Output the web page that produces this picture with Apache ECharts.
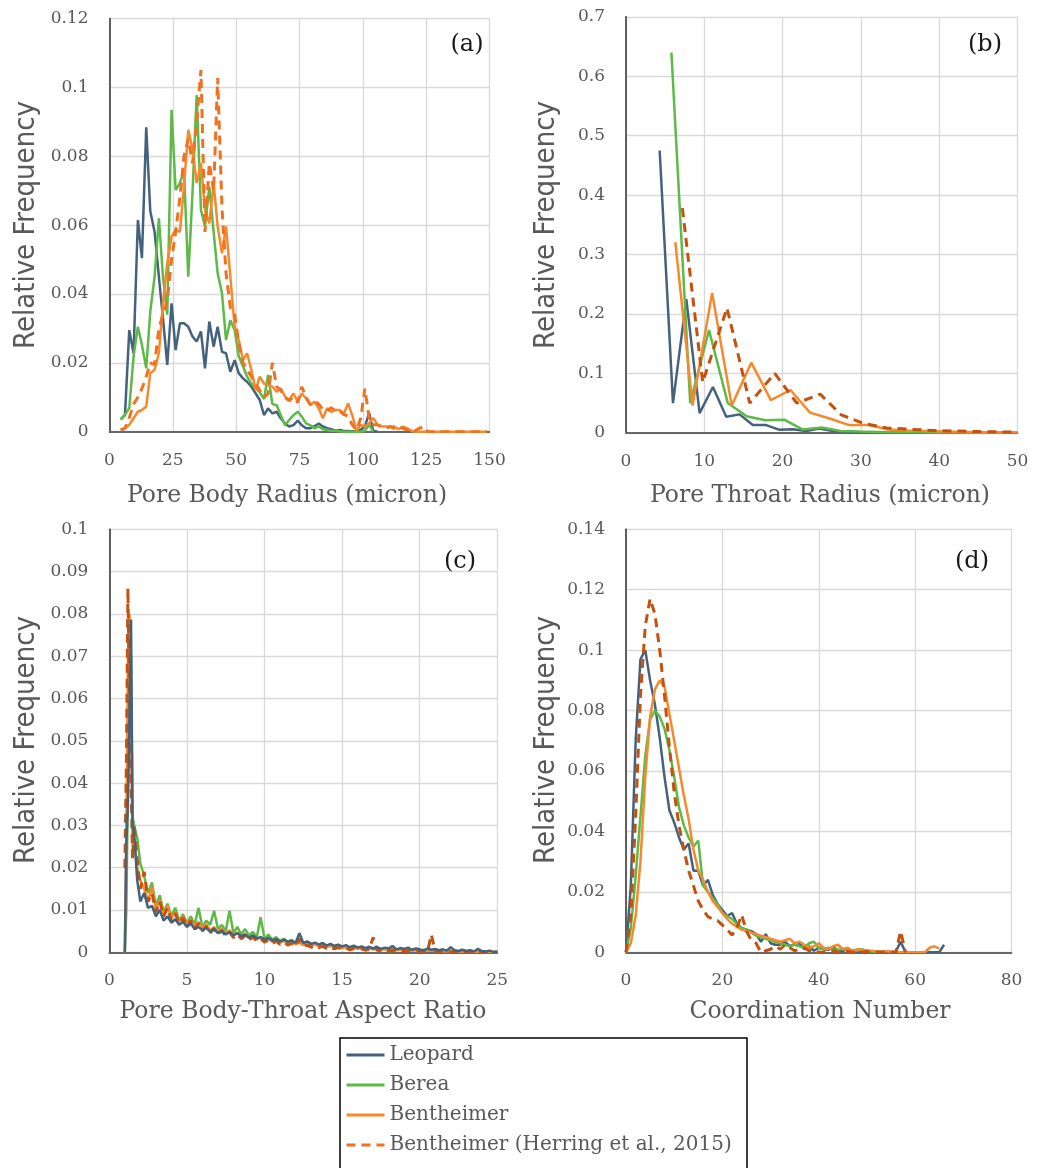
<!DOCTYPE html>
<html><head><meta charset="utf-8">
<script src="https://cdn.jsdelivr.net/npm/echarts@6/dist/echarts.min.js"></script>
<style>html,body{margin:0;padding:0;background:#fff;}#chart{width:1045px;height:1168px;}</style>
</head><body><div id="chart"></div>
<script>
// ---------- DATA ----------
const seriesNames = ['Leopard', 'Berea', 'Bentheimer', 'Bentheimer (Herring et al., 2015)'];
const xTitles = ['Pore Body Radius (micron)', 'Pore Throat Radius (micron)', 'Pore Body-Throat Aspect Ratio', 'Coordination Number'];
const panelLabels = ['(a)', '(b)', '(c)', '(d)'];
const yTitle = 'Relative Frequency';

// (a) pore body radius
const aX = [4.4, 6.1, 7.8, 9.5, 11.2, 12.8, 14.5, 16.1, 17.8, 19.5,
 21.1, 22.8, 24.5, 26.1, 27.8, 29.4, 31.1, 32.8, 34.4, 36.1,
 37.7, 39.4, 41.1, 42.7, 44.4, 46.0, 47.7, 49.4, 51.0, 52.7,
 54.3, 56.0, 57.7, 59.3, 61.0, 62.6, 64.3, 66.0, 67.6, 69.3,
 70.9, 72.6, 74.3, 75.9, 77.6, 79.2, 80.9, 82.6, 84.2, 85.9,
 87.5, 89.2, 90.9, 92.5, 94.2, 95.8, 97.5, 99.2, 100.8, 102.5,
 104.1, 105.8, 107.5, 109.1, 110.8, 112.4, 114.1, 115.8, 117.4, 119.1,
 120.7, 122.4, 124.1, 125.7, 127.4, 129.0, 130.7, 132.4, 134.0, 135.7,
 137.3, 139.0, 140.7, 142.3, 144.0, 145.6, 147.3, 149.0];
const aLeopard = [.0036, .0048, .0295, .0228, .0615, .0504, .0884, .064, .058, .045,
 .033, .0194, .0373, .0237, .0315, .0315, .0305, .0276, .0262, .0291,
 .0184, .032, .0247, .0305, .0232, .0228, .0174, .0208, .017, .0155,
 .0145, .0131, .0111, .0092, .0048, .0068, .0053, .0058, .0039, .0024,
 .0015, .0019, .0032, .0019, .001, .001, .0016, .0024, .0015, .001,
 .0007, .0003, .0005, .0002, .0002, .0001, .0001, .0006, .0015, .0055,
 .0003, 0];
const aBerea = [.0035, .005, .0068, .0218, .0305, .0252, .0184, .0349, .045, .062,
 .045, .034, .0935, .0702, .0722, .076, .045, .07, .0978, .0644,
 .0596, .0712, .058, .046, .0402, .0266, .0324, .0295, .022, .019,
 .016, .014, .0125, .0115, .0095, .0165, .008, .0077, .0048, .0019,
 .0034, .0048, .0058, .0044, .0024, .0019, .001, .0015, .0007, .0005,
 .0003, .0003, .0001, 0, 0, 0, 0, 0, .0003, .002,
 0];
const aBent = [.0005, .001, .002, .0039, .0058, .0063, .0073, .017, .018, .0228,
 .0373, .049, .0567, .0586, .058, .0712, .0877, .082, .0722, .078,
 .0644, .0605, .0722, .0596, .0518, .0596, .045, .0305, .0266, .0208,
 .0228, .0179, .0121, .016, .014, .0136, .0131, .0116, .0126, .0102,
 .0092, .0111, .0087, .0111, .0097, .0077, .0087, .0068, .0039, .0068,
 .0058, .0063, .0063, .0053, .0082, .0048, .0003, .002, .0015, .0025,
 .004, .002, .0015, .0015, .0015, .0015, .0007, .0015, .001, .0003,
 0, 0, 0, 0, 0, 0, 0, 0, 0, 0,
 0, 0, 0, 0, 0, 0, 0, 0];
const aHerring = [.0005, .001, .004, .008, .01, .0125, .016, .02, .0195, .03,
 .034, .038, .05, .058, .068, .08, .085, .078, .09, .105,
 .058, .078, .07, .1027, .065, .046, .036, .034, .026, .02,
 .018, .016, .014, .012, .01, .011, .02, .013, .012, .01,
 .009, .01, .0085, .013, .01, .008, .009, .008, .0065, .006,
 .007, .006, .006, .005, .0045, .002, .0005, .004, .0125, .004,
 .002, .002, .0015, .001, .0015, .001, .0015, .001, .0005, .001,
 .0003, .001, .0015, 0, 0, 0, 0, 0, 0, 0,
 0, 0, 0, 0, 0, 0, 0, 0];

// (b) pore throat radius
const bLeopardX = [4.3, 6.0, 7.7, 9.4, 11.1, 12.8, 14.5, 16.2, 17.9, 19.6, 21.3, 23.0, 24.7, 26.4, 28.1, 29.8, 31.5, 33.2, 34.9, 36.6, 38.3, 40.0, 41.7, 43.4, 45.1, 46.8, 48.5];
const bLeopardY = [.475, .05, .225, .033, .077, .027, .031, .013, .013, .005, .006, .003, .007, .003, .002, .001, .001, .0005, .0004, .0003, .0002, .0002, .0001, .0001, 0, 0, 0];
const bBereaX = [5.8, 8.2, 10.6, 13.0, 15.4, 17.8, 20.2, 22.6, 25.0, 27.4, 29.8, 32.2, 34.6, 37.0, 39.4, 41.8, 44.2, 46.6, 49.0];
const bBereaY = [.64, .05, .173, .05, .028, .021, .022, .0055, .009, .003, .002, .0015, .001, .0008, .0005, .0003, .0002, .0001, 0];
const bBentX = [6.3, 8.5, 11.0, 13.5, 16.0, 18.5, 21.0, 23.5, 26.0, 28.5, 31.0, 33.5, 36.0, 38.5, 41.0, 43.5, 46.0, 48.5, 50.0];
const bBentY = [.321, .046, .2355, .046, .118, .055, .072, .034, .024, .013, .013, .0056, .004, .003, .002, .0015, .001, .001, .001];
const bHerX = [7.2, 9.8, 12.9, 15.8, 19.0, 21.8, 24.8, 27.5, 30.3, 33.3, 36.2, 39.2, 42.2, 45.2, 48.2, 50.0];
const bHerY = [.378, .085, .21, .05, .1, .05, .065, .03, .016, .008, .006, .004, .003, .002, .0015, .001];

// (c) pore body-throat aspect ratio
const cX = [1.0, 1.1, 1.2, 1.3, 1.4, 1.5, 1.6, 1.8,
 2.0, 2.25, 2.5, 2.75, 3.0, 3.25, 3.5, 3.75,
 4.0, 4.25, 4.5, 4.75, 5.0, 5.25, 5.5, 5.75,
 6.0, 6.25, 6.5, 6.75, 7.0, 7.25, 7.5, 7.75,
 8.0, 8.25, 8.5, 8.75, 9.0, 9.25, 9.5, 9.75,
 10.0, 10.25, 10.5, 10.75, 11.0, 11.25, 11.5, 11.75,
 12.0, 12.25, 12.5, 12.75, 13.0, 13.25, 13.5, 13.75,
 14.0, 14.25, 14.5, 14.75, 15.0, 15.25, 15.5, 15.75,
 16.0, 16.25, 16.5, 16.75, 17.0, 17.25, 17.5, 17.75,
 18.0, 18.25, 18.5, 18.75, 19.0, 19.25, 19.5, 19.75,
 20.0, 20.25, 20.5, 20.75, 21.0, 21.25, 21.5, 21.75,
 22.0, 22.25, 22.5, 22.75, 23.0, 23.25, 23.5, 23.75,
 24.0, 24.25, 24.5, 24.75, 25.0];
const cLeopard = [0, .026, .035, .055, .0787, .03, .028, .017,
 .012, .014, .0105, .011, .0085, .010, .0075, .0085,
 .007, .0078, .0065, .0072, .006, .0068, .0055, .006,
 .0052, .0058, .0048, .0055, .0045, .005, .0042, .0048,
 .004, .0045, .0038, .0042, .0035, .004, .0033, .0036,
 .003, .0034, .0028, .0031, .0026, .003, .0025, .0028,
 .0022, .0045, .0022, .0026, .002, .0023, .0018, .0022,
 .0016, .002, .0015, .0018, .0014, .0017, .0012, .0016,
 .0011, .0014, .001, .0013, .0009, .0012, .0008, .0011,
 .0009, .0015, .0007, .001, .0008, .0011, .0006, .0009,
 .0007, .0004, .0009, .0006, .0008, .0005, .0007, .0004,
 .0012, .0005, .0003, .0006, .0003, .0005, .0002, .0008,
 .0003, .0002, .0004, .0001, .0002];
const cBerea = [0, .01, .04, .06, .07, .032, .03, .027,
 .021, .018, .014, .0165, .011, .0135, .0095, .0115,
 .0085, .0105, .0075, .009, .007, .0085, .0065, .0105,
 .006, .0075, .0065, .0098, .0055, .0065, .005, .0098,
 .0045, .006, .0042, .0055, .004, .0048, .0035, .0083,
 .0032, .0042, .003, .0036, .0027, .0032, .0025, .0029,
 .0022, .0026, .002, .0024, .0018, .0021, .0016, .0019,
 .0015, .0017, .0013, .0016, .0012, .0014, .0011, .0013,
 .001, .0012, .0009, .0011, .0008, .001, .0007, .0009,
 .0006, .0008, .0006, .0007, .0005, .0007, .0005, .0006,
 .0004, .0006, .0004, .0005, .0003, .0005, .0003, .0004,
 .0003, .0004, .0002, .0003, .0002, .0003, .0002, .0002,
 .0001, .0002, .0001, .0001, .0001];
const cBent = [0, .03, .07, .08, .05, .025, .027, .02,
 .017, .015, .012, .0155, .01, .0125, .009, .011,
 .008, .0095, .0072, .0085, .0068, .0078, .0062, .0072,
 .0058, .0066, .0052, .006, .0048, .0056, .0044, .0052,
 .004, .0047, .0036, .0043, .0033, .0039, .003, .0036,
 .0028, .0033, .0025, .003, .0023, .0027, .0021, .0025,
 .0019, .0023, .0017, .0021, .0015, .0019, .0014, .0017,
 .0013, .0015, .0011, .0014, .001, .0012, .0009, .0011,
 .0008, .001, .0007, .0009, .0007, .0008, .0006, .0007,
 .0005, .0007, .0005, .0006, .0004, .0006, .0004, .0005,
 .0003, .0005, .0003, .0004, .0003, .0004, .0002, .0003,
 .0002, .0003, .0002, .0002, .0001, .0002, .0001, .0002,
 .0001, .0001, .0001, 0, .0001];
const cHerring = [.02, .045, .086, .06, .04, .022, .03, .022,
 .015, .019, .012, .014, .0095, .012, .0085, .0105,
 .0075, .0092, .0068, .0082, .006, .0075, .0055, .0068,
 .005, .0062, .0046, .0056, .0042, .0052, .0038, .0047,
 .0035, .0043, .0032, .0039, .0029, .0036, .0026, .0032,
 .0024, .0029, .0021, .0026, .0019, .0024, .0017, .0021,
 .0015, .0032, .0014, .0017, .0012, .0015, .0011, .0014,
 .0009, .0012, .0008, .0011, .0007, .001, .0006, .0009,
 .0006, .0008, .0005, .0007, .0035, .0005, .0004, .0006,
 .0003, .0005, .0003, .0004, .0002, .0004, .0002, .0003,
 .0002, .0003, .0001, .0042, .0002, .0002, .0001, .0002,
 .0001, .0001, .0001, .0001, 0, .0001, 0, .0001,
 0, 0, .0001, 0, 0];

// (d) coordination number
const dX = [0, 1, 2, 3, 4, 5, 6, 7, 8, 9, 10, 11, 12, 13, 14, 15, 16, 17, 18, 19,
 20, 21, 22, 23, 24, 25, 26, 27, 28, 29, 30, 31, 32, 33, 34, 35, 36, 37, 38, 39,
 40, 41, 42, 43, 44, 45, 46, 47, 48, 49, 50, 51, 52, 53, 54, 55, 56, 57, 58, 59,
 60, 61, 62, 63, 64, 65, 66];
const dLeopard = [0, .022, .07, .097, .1, .09, .082, .071, .058, .047,
 .043, .038, .034, .036, .027, .027, .022, .024, .019, .016,
 .014, .012, .013, .0095, .008, .0075, .007, .006, .0035, .006,
 .003, .0025, .0025, .0035, .002, .0028, .003, .001, .002, .0005,
 .0015, .001, .0008, .0018, .0005, .0004, .0012, .0004, .0003, .0003,
 .0005, .0002, .0003, .0002, .0001, .0001, .0003, .0035, 0, 0,
 0, 0, 0, 0, 0, 0, .0025];
const dBerea = [0, .008, .025, .045, .065, .077, .08, .078, .074, .067,
 .058, .048, .042, .038, .035, .037, .022, .02, .018, .016,
 .013, .012, .011, .0095, .008, .0075, .0065, .0055, .005, .0045,
 .004, .0035, .003, .0025, .002, .0025, .002, .0015, .003, .0035,
 .0015, .001, .0015, .001, .0008, .0012, .0006, .0005, .0005, .001,
 .0004, .0003, .0002, 0];
const dBent = [0, .003, .012, .03, .058, .078, .087, .09, .088, .079,
 .07, .061, .052, .044, .034, .027, .024, .02, .017, .015,
 .013, .011, .0095, .0085, .0075, .007, .0065, .006, .0055, .005,
 .0045, .004, .0035, .004, .0045, .003, .0035, .0025, .0015, .002,
 .003, .0015, .001, .002, .0025, .001, .0015, .0005, .001, .0008,
 .0005, .0005, .0003, .0002, .0004, .0002, .0001, 0, 0, 0,
 0, 0, 0, .0015, .002, .0012];
const dHerring = [0, .012, .045, .085, .108, .117, .112, .1, .085, .068,
 .053, .042, .034, .027, .022, .017, .014, .0118, .011, .0105,
 .009, .0075, .0057, .008, .0124, .007, .004, .003, 0, .0005,
 .001, .002, .001, .0025, .0015, .0005, .001, .0015, .0005, .0008,
 0, 0, 0, .0005, 0, 0, .0003, 0, 0, 0,
 .0003, 0, 0, 0, 0, 0, 0, .007, 0];

// axis ranges [min, max, interval]
const xRanges = [[0, 150, 25], [0, 50, 10], [0, 25, 5], [0, 80, 20]];
const yRanges = [[0, 0.12, 0.02], [0, 0.7, 0.1], [0, 0.1, 0.01], [0, 0.14, 0.02]];

// ---------- STYLE / LAYOUT ----------
const C_LEO = '#44627E', C_BER = '#5DBA47', C_BEN = '#F7892D', C_HER_A = '#F0711F', C_HER = '#C4520F';
const grids = [
  {left: 109.5, top: 18.5, width: 380, height: 413.2},
  {left: 626, top: 16.8, width: 391.5, height: 416},
  {left: 109.3, top: 529.3, width: 388, height: 423},
  {left: 626, top: 529.3, width: 385.5, height: 423}
];
const SERIF = '"DejaVu Serif", "Liberation Serif", serif';
const GRID_C = '#D9D9D9', BORDER_C = '#404040', TXT_C = '#595959';

function zip(xs, ys) { const n = Math.min(xs.length, ys.length), o = []; for (let i = 0; i < n; i++) o.push([xs[i], ys[i]]); return o; }
function fmt(v) { return v === 0 ? '0' : String(+v.toFixed(4)); }

const xAxes = [], yAxes = [];
grids.forEach((g, i) => {
  const [x0, x1, xi] = xRanges[i], [y0, y1, yi] = yRanges[i];
  xAxes.push({gridIndex: i, type: 'value', min: x0, max: x1, interval: xi, position: 'bottom',
    axisLine: {show: true, lineStyle: {color: GRID_C, width: 1.5}}, axisTick: {show: false},
    splitLine: {show: true, lineStyle: {color: GRID_C, width: 1.3}},
    axisLabel: {margin: 20, color: TXT_C, fontFamily: SERIF, fontSize: 17, formatter: fmt}});
  xAxes.push({gridIndex: i, type: 'value', min: x0, max: x1, interval: xi, position: 'top',
    axisLine: {show: true, lineStyle: {color: BORDER_C, width: 1.6}}, axisTick: {show: false},
    splitLine: {show: false}, axisLabel: {show: false}});
  yAxes.push({gridIndex: i, type: 'value', min: y0, max: y1, interval: yi, position: 'left',
    axisLine: {show: true, lineStyle: {color: GRID_C, width: 1.5}}, axisTick: {show: false},
    splitLine: {show: true, lineStyle: {color: GRID_C, width: 1.3}},
    axisLabel: {margin: 21, color: TXT_C, fontFamily: SERIF, fontSize: 17, formatter: fmt}});
  yAxes.push({gridIndex: i, type: 'value', min: y0, max: y1, interval: yi, position: 'right',
    axisLine: {show: true, lineStyle: {color: BORDER_C, width: 1.6}}, axisTick: {show: false},
    splitLine: {show: false}, axisLabel: {show: false}});
});

function line(name, panel, data, color, dashed) {
  return {name: name, type: 'line', xAxisIndex: panel * 2, yAxisIndex: panel * 2, data: data,
    symbol: 'none', showSymbol: false, animation: false, clip: true,
    lineStyle: {color: color, width: dashed ? 3 : 2.5, type: dashed ? [9, 6] : 'solid'},
    itemStyle: {color: color}};
}
const series = [
  line(seriesNames[0], 0, zip(aX, aLeopard), C_LEO),
  line(seriesNames[1], 0, zip(aX, aBerea), C_BER),
  line(seriesNames[2], 0, zip(aX, aBent), C_BEN),
  line(seriesNames[3], 0, zip(aX, aHerring), C_HER_A, true),
  line(seriesNames[0], 1, zip(bLeopardX, bLeopardY), C_LEO),
  line(seriesNames[1], 1, zip(bBereaX, bBereaY), C_BER),
  line(seriesNames[2], 1, zip(bBentX, bBentY), C_BEN),
  line(seriesNames[3], 1, zip(bHerX, bHerY), C_HER, true),
  line(seriesNames[1], 2, zip(cX, cBerea), C_BER),
  line(seriesNames[2], 2, zip(cX, cBent), C_BEN),
  line(seriesNames[3], 2, zip(cX, cHerring), C_HER, true),
  line(seriesNames[0], 2, zip(cX, cLeopard), C_LEO),
  line(seriesNames[0], 3, zip(dX, dLeopard), C_LEO),
  line(seriesNames[1], 3, zip(dX, dBerea), C_BER),
  line(seriesNames[2], 3, zip(dX, dBent), C_BEN),
  line(seriesNames[3], 3, zip(dX, dHerring), C_HER, true)
];

function txt(text, x, y, size, color, family, rot) {
  return {type: 'text', x: x, y: y, rotation: rot || 0, z: 100,
    style: {text: text, fill: color, font: size + 'px ' + family,
      align: 'center', verticalAlign: 'middle', textAlign: 'center', textVerticalAlign: 'middle'}};
}
const SANS_N = '"Liberation Sans Narrow", "DejaVu Sans Condensed", "Liberation Sans", sans-serif';
const graphics = [
  txt(xTitles[0], 287, 496, 23.5, TXT_C, SERIF),
  txt(xTitles[1], 820, 496, 23.5, TXT_C, SERIF),
  txt(xTitles[2], 303, 1012, 23.5, TXT_C, SERIF),
  txt(xTitles[3], 820, 1012, 23.5, TXT_C, SERIF),
  txt(yTitle, 26, 225, 29, TXT_C, SANS_N, Math.PI / 2),
  txt(yTitle, 546, 225, 29, TXT_C, SANS_N, Math.PI / 2),
  txt(yTitle, 26, 740, 29, TXT_C, SANS_N, Math.PI / 2),
  txt(yTitle, 546, 740, 29, TXT_C, SANS_N, Math.PI / 2),
  txt(panelLabels[0], 467, 45, 24, '#1A1A1A', SERIF),
  txt(panelLabels[1], 985, 45, 24, '#1A1A1A', SERIF),
  txt(panelLabels[2], 460, 562, 24, '#1A1A1A', SERIF),
  txt(panelLabels[3], 972, 562, 24, '#1A1A1A', SERIF),
  {type: 'rect', z: 1, shape: {x: 340, y: 1038, width: 407, height: 150},
    style: {fill: 'none', stroke: '#000', lineWidth: 1.5}}
];

const chart = echarts.init(document.getElementById('chart'), null, {renderer: 'canvas'});
chart.setOption({
  animation: false,
  backgroundColor: '#ffffff',
  grid: grids,
  xAxis: xAxes,
  yAxis: yAxes,
  series: series,
  graphic: graphics,
  legend: {
    data: seriesNames, orient: 'vertical', left: 340, top: 1038, height: 200,
    padding: [7, 5, 7, 5], itemGap: 10, itemWidth: 38, itemHeight: 20,
    selectedMode: false, itemStyle: {opacity: 0}, lineStyle: {width: 3},
    textStyle: {fontFamily: SERIF, fontSize: 20, color: TXT_C}
  }
});
</script></body></html>
